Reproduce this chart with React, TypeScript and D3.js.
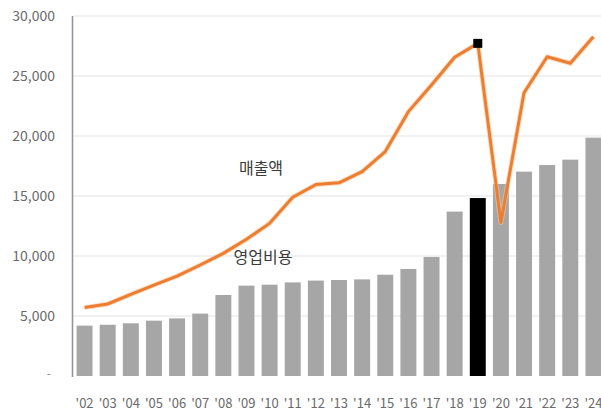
import React from "react";
import * as d3 from "d3";

const years = ["'02","'03","'04","'05","'06","'07","'08","'09","'10","'11","'12","'13","'14","'15","'16","'17","'18","'19","'20","'21","'22","'23","'24"];
const opex = [4200,4270,4390,4610,4800,5200,6750,7530,7610,7800,7950,8000,8050,8440,8920,9920,13700,14830,16000,17030,17580,18030,19860];
const revenue = [5700,6000,6800,7580,8330,9250,10220,11390,12720,14900,15950,16100,17030,18700,22030,24250,26560,27720,12800,23600,26600,26060,28270];
const yTicks = [5000,10000,15000,20000,25000,30000];
const highlightYear = "'19";
const revenueLabel = "매출액";
const opexLabel = "영업비용";

export default function App() {
  const W = 601, H = 415;
  const x = d3.scaleBand<string>().domain(years).range([73, 605]).paddingInner(0.31).paddingOuter(0.155);
  const y = d3.scaleLinear().domain([0, 30000]).range([376, 16]);
  const cx = (yr: string) => (x(yr) as number) + x.bandwidth() / 2;
  const line = d3.line<number>().x((_, i) => cx(years[i])).y((v) => y(v)).curve(d3.curveLinear);
  const fmt = d3.format(",");
  const hi = years.indexOf(highlightYear);
  const font = "'Noto Sans CJK KR', 'Noto Sans', sans-serif";
  return (
    <svg width={W} height={H} style={{ position: "absolute", left: 0, top: 0, background: "#fff" }} fontFamily={font}>
      {yTicks.map((t) => (
        <line key={t} x1={73} x2={W} y1={y(t)} y2={y(t)} stroke="#e3e3e3" strokeWidth={1.2} />
      ))}
      {yTicks.map((t) => (
        <text key={"l" + t} x={55} y={y(t)} dy="0.35em" textAnchor="end" fontSize={14} fill="#6a6a6a">{fmt(t)}</text>
      ))}
      <text x={51} y={y(0)} dy="0.2em" textAnchor="end" fontSize={12} fill="#8a8a8a">-</text>
      {opex.map((v, i) => (
        <rect key={years[i]} x={x(years[i])} y={y(v)} width={x.bandwidth()} height={y(0) - y(v)} fill={i === hi ? "#000" : "#a6a6a6"} />
      ))}
      <line x1={72.5} x2={72.5} y1={16} y2={377} stroke="#8f91a0" strokeWidth={1.5} />
      <path d={line(revenue) || ""} fill="none" stroke="#f5c79a" strokeWidth={5} strokeLinejoin="round" opacity={0.6} />
      <path d={line(revenue) || ""} fill="none" stroke="#ED7D31" strokeWidth={3} strokeLinejoin="round" />
      <rect x={cx(highlightYear) - 4.5} y={y(revenue[hi]) - 4.5} width={9} height={9} fill="#000" />
      {years.map((yr) => (
        <text key={"x" + yr} x={cx(yr)} y={403} dy="0.35em" textAnchor="middle" fontSize={13} fill="#6a6a6a">{yr}</text>
      ))}
      <text x={261} y={168} dy="0.35em" textAnchor="middle" fontSize={16} fill="#3a3a3a">{revenueLabel}</text>
      <text x={263} y={257} dy="0.35em" textAnchor="middle" fontSize={16} fill="#3a3a3a">{opexLabel}</text>
    </svg>
  );
}
